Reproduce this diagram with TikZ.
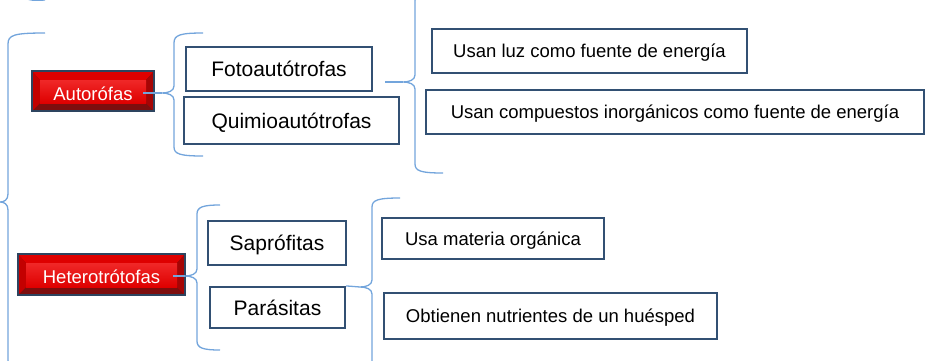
\documentclass[tikz,border=0pt]{standalone}
\usepackage{fontspec}
\setmainfont{Liberation Sans}
\usetikzlibrary{calc}

\definecolor{bracecol}{RGB}{115,165,220}
\definecolor{boxedge}{RGB}{50,80,115}
\definecolor{btnedge}{RGB}{45,68,95}
\definecolor{btntop}{RGB}{222,0,0}
\definecolor{btnleft}{RGB}{195,0,0}
\definecolor{btnright}{RGB}{165,5,5}
\definecolor{btnlow}{RGB}{125,14,14}
\definecolor{btnface}{RGB}{240,40,40}

\begin{document}
\begin{tikzpicture}[x=1pt,y=-1pt,
	brc/.style={draw=bracecol, line width=1.3pt},
	box/.style={draw=boxedge, line width=2.2pt, fill=white, inner sep=0pt,
		font=\fontsize{21}{25}\selectfont, text height=15pt, text depth=0pt},
	note/.style={box, font=\fontsize{18.5}{22}\selectfont, text height=13.3pt},
	button/.style={draw=btnedge, line width=2pt, inner sep=0pt, text=white,
		font=\fontsize{18.5}{22}\selectfont, text height=18.3pt, text depth=0pt,
		path picture={
			\fill[btnlow] (path picture bounding box.south west) rectangle (path picture bounding box.north east);
			\fill[btntop] (path picture bounding box.north west) -- (path picture bounding box.north east)
				-- ([shift={(-8pt,-9pt)}]path picture bounding box.north east)
				-- ([shift={(8pt,-9pt)}]path picture bounding box.north west) -- cycle;
			\fill[btnleft] (path picture bounding box.north west) -- ([shift={(8pt,-9pt)}]path picture bounding box.north west)
				-- ([shift={(8pt,8pt)}]path picture bounding box.south west) -- (path picture bounding box.south west) -- cycle;
			\fill[btnright] (path picture bounding box.north east) -- ([shift={(-8pt,-9pt)}]path picture bounding box.north east)
				-- ([shift={(-8pt,8pt)}]path picture bounding box.south east) -- (path picture bounding box.south east) -- cycle;
			\shade[top color=btnface, bottom color=btntop]
				([shift={(8pt,-9pt)}]path picture bounding box.north west)
				rectangle ([shift={(-8pt,8pt)}]path picture bounding box.south east);
		}}
	]
	\useasboundingbox (0,0) rectangle (931,360);
	\clip (0,0) rectangle (931,360);

	% main groups
	\node [button, minimum width=122pt, minimum height=40pt] (auto) at (93,91) {Autorófas};
	\node [button, minimum width=167pt, minimum height=41pt] (het) at (101.5,274.5) {Heterotrótofas};

	% second level
	\node [box, minimum width=186pt, minimum height=44pt] (foto) at (279,69) {Fotoautótrofas};
	\node [box, minimum width=215pt, minimum height=47pt] (quim) at (291.5,120.5) {Quimioautótrofas};
	\node [box, minimum width=138pt, minimum height=44pt] (sapro) at (277,243) {Saprófitas};
	\node [box, minimum width=135pt, minimum height=41pt] (para) at (277.5,307.5) {Parásitas};

	% descriptions
	\node [note, minimum width=315pt, minimum height=44pt] (luz) at (589.5,51) {Usan luz como fuente de energía};
	\node [note, minimum width=498pt, minimum height=44pt] (inorg) at (675,112) {Usan compuestos inorgánicos como fuente de energía};
	\node [note, minimum width=222pt, minimum height=41pt] (mat) at (493,238.5) {Usa materia orgánica};
	\node [note, minimum width=333pt, minimum height=46pt] (huesp) at (550.5,316) {Obtienen nutrientes de un huésped};

	% braces
	\draw [brc] (24,-14) -- (24,-7) .. controls (24,0) and (30,1) .. (45,0);
	\draw [brc] (45,33) .. controls (14,33) and (8,35) .. (8,44) -- (8,194)
		.. controls (8,200) and (4,202) .. (0,202) .. controls (4,202) and (8,204) .. (8,210)
		-- (8,360) .. controls (8,369) and (14,371) .. (45,371);
	\draw [brc] (203,33) .. controls (180,33) and (174,35) .. (174,43) -- (174,86)
		.. controls (174,91) and (168,93) .. (162,93) coordinate (b_auto)
		.. controls (168,93) and (174,95) .. (174,100)
		-- (174,147) .. controls (174,154) and (180,156) .. (203,156);
	\draw [brc] (443,-9) .. controls (421,-9) and (415,-7) .. (415,1) -- (415,75)
		.. controls (415,80) and (409,82) .. (403,82) coordinate (b_foto)
		.. controls (409,82) and (415,84) .. (415,89)
		-- (415,164) .. controls (415,171) and (421,173) .. (443,173);
	\draw [brc] (220,205) .. controls (203,205) and (197,207) .. (197,214) -- (197,269)
		.. controls (197,274) and (191,276) .. (185,276) coordinate (b_het)
		.. controls (191,276) and (197,278) .. (197,283)
		-- (197,341) .. controls (197,348) and (203,350) .. (220,350);
	\draw [brc] (400,198) .. controls (378,198) and (372,200) .. (372,207) -- (372,280)
		.. controls (372,285) and (366,287) .. (360,287) coordinate (b_para)
		.. controls (366,287) and (372,289) .. (372,294)
		-- (372,367) .. controls (372,374) and (378,376) .. (400,376);

	% connectors
	\draw [brc] ($(auto.east |- b_auto)+(-12pt,0)$) -- (b_auto);
	\draw [brc] ($(het.east |- b_het)+(-13pt,0)$) -- (b_het);
	\draw [brc] ($(foto.east |- b_foto)+(12pt,0)$) -- (b_foto);
	\draw [brc] (para.north east) -- (b_para);
\end{tikzpicture}
\end{document}
